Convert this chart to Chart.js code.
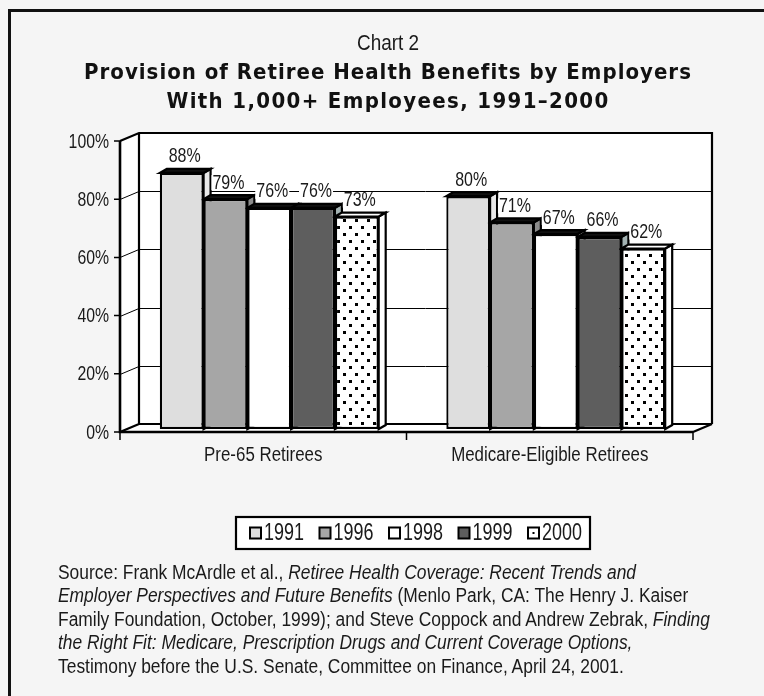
<!DOCTYPE html>
<html><head><meta charset="utf-8">
<script src="https://cdn.jsdelivr.net/npm/chart.js@4.4.0/dist/chart.umd.min.js"></script>
<style>
html,body{margin:0;padding:0;background:#f5f5f5;}
#wrap{position:relative;width:764px;height:696px;overflow:hidden;background:#f5f5f5;}
#frame{position:absolute;left:8px;top:9px;width:900px;height:900px;border-left:3px solid #111;border-top:3px solid #111;}
canvas{position:absolute;left:0;top:0;}
.t{position:absolute;left:0;width:776px;text-align:center;color:#111;white-space:nowrap;}
#chartno span{display:inline-block;transform:scaleX(0.86);transform-origin:50% 50%;}
#chartno{top:30px;font-family:"Liberation Sans",Arial,sans-serif;font-size:22px;line-height:26px;color:#1a1a1a;}
.tt{font-family:"DejaVu Sans Condensed","DejaVu Sans",sans-serif;font-weight:bold;font-size:22px;line-height:28px;letter-spacing:1px;}
#src{position:absolute;left:58px;top:561px;font-family:"Liberation Sans",Arial,sans-serif;font-size:20px;line-height:23.4px;color:#1a1a1a;white-space:nowrap;transform:scaleX(0.87);transform-origin:0 0;}
</style></head>
<body><div id="wrap">
<div id="frame"></div>
<canvas id="c" width="764" height="696"></canvas>
<div class="t" id="chartno"><span>Chart 2</span></div>
<div class="t tt" style="top:58px;">Provision of Retiree Health Benefits by Employers</div>
<div class="t tt" style="top:87px;letter-spacing:1.35px;">With 1,000+ Employees, 1991–2000</div>
<div id="src">Source: Frank McArdle et al., <i>Retiree Health Coverage: Recent Trends and</i><br><i>Employer Perspectives and Future Benefits</i> (Menlo Park, CA: The Henry J. Kaiser<br>Family Foundation, October, 1999); and Steve Coppock and Andrew Zebrak, <i>Finding</i><br><i>the Right Fit: Medicare, Prescription Drugs and Current Coverage Options,</i><br>Testimony before the U.S. Senate, Committee on Finance, April 24, 2001.</div>
</div>
<script>
// ---- data ----
const categories = ['Pre-65 Retirees', 'Medicare-Eligible Retirees'];
const years = ['1991', '1996', '1998', '1999', '2000'];
const v1991 = [88, 80];
const v1996 = [79, 71];
const v1998 = [76, 67];
const v1999 = [76, 66];
const v2000 = [73, 62];
const yTickValues = [0, 20, 40, 60, 80, 100];
const yTickLabels = ['0%', '20%', '40%', '60%', '80%', '100%'];

const FONT = '"Liberation Sans",Arial,sans-serif';
const canvas = document.getElementById('c');
const ctx0 = canvas.getContext('2d');

function txt(ctx, s, x, y, align, sx) {
  ctx.save();
  ctx.translate(x, y);
  ctx.scale(sx, 1);
  ctx.textAlign = align;
  ctx.fillText(s, 0, 0);
  ctx.restore();
}

function dotPattern() {
  const p = document.createElement('canvas');
  p.width = 12; p.height = 14;
  const g = p.getContext('2d');
  g.fillStyle = '#fff'; g.fillRect(0, 0, 12, 14);
  g.fillStyle = '#000';
  g.fillRect(1, 2, 3, 3);
  g.fillRect(7, 9, 3, 3);
  return ctx0.createPattern(p, 'repeat');
}
const frontColors = ['#dedede', '#a6a6a6', '#ffffff', '#5e5e5e', dotPattern()];
const sideColors = ['#e9e9e9', '#8c8c8c', '#ffffff', '#a3b2b2', '#ffffff'];
const topColors = ['#111', '#111', '#111', '#111', '#ffffff'];
const DX = 7, DY = 4;

const threeD = {
  id: 'threeD',
  beforeDatasetsDraw(chart) {
    const { ctx, chartArea: ca, scales: { y } } = chart;
    const fx = ca.left - 6, bx = ca.left + 13, fxr = ca.right - 6, bxr = ca.right + 13;
    const fy = v => y.getPixelForValue(v) + 3;
    const by = v => y.getPixelForValue(v) - 5;
    ctx.save();
    ctx.fillStyle = '#fff';
    ctx.fillRect(bx, by(100), bxr - bx, by(0) - by(100));
    ctx.beginPath();
    ctx.moveTo(fx, fy(100)); ctx.lineTo(bx, by(100)); ctx.lineTo(bx, by(0)); ctx.lineTo(fx, fy(0)); ctx.closePath(); ctx.fill();
    ctx.beginPath();
    ctx.moveTo(fx, fy(0)); ctx.lineTo(bx, by(0)); ctx.lineTo(bxr, by(0)); ctx.lineTo(fxr, fy(0)); ctx.closePath(); ctx.fill();
    ctx.strokeStyle = '#000'; ctx.lineWidth = 1;
    yTickValues.forEach(v => {
      if (v === 0 || v === 100) return;
      ctx.beginPath();
      ctx.moveTo(fx, Math.round(fy(v)) + 0.5); ctx.lineTo(bx, Math.round(by(v)) + 0.5); ctx.lineTo(bxr, Math.round(by(v)) + 0.5);
      ctx.stroke();
    });
    ctx.lineWidth = 2.2;
    ctx.beginPath();
    ctx.moveTo(fx, fy(100)); ctx.lineTo(bx, by(100)); ctx.lineTo(bxr, by(100)); ctx.lineTo(bxr, by(0));
    ctx.moveTo(bx, by(100)); ctx.lineTo(bx, by(0)); ctx.lineTo(bxr, by(0));
    ctx.moveTo(fx, fy(0)); ctx.lineTo(bx, by(0));
    ctx.moveTo(bxr, by(0)); ctx.lineTo(fxr, fy(0));
    ctx.stroke();
    chart.data.datasets.forEach((ds, di) => {
      const meta = chart.getDatasetMeta(di);
      meta.data.forEach(el => {
        const p = el.getProps(['x', 'y', 'width', 'base'], true);
        const L = p.x - p.width / 2, R = p.x + p.width / 2, T = p.y, B = p.base;
        ctx.lineWidth = 2.2;
        ctx.strokeStyle = '#000';
        ctx.fillStyle = sideColors[di];
        ctx.beginPath();
        ctx.moveTo(R, T); ctx.lineTo(R + DX, T - DY); ctx.lineTo(R + DX, B - DY); ctx.lineTo(R, B); ctx.closePath();
        ctx.fill(); ctx.stroke();
        ctx.fillStyle = topColors[di];
        ctx.beginPath();
        ctx.moveTo(L, T); ctx.lineTo(L + DX, T - DY); ctx.lineTo(R + DX, T - DY); ctx.lineTo(R, T); ctx.closePath();
        ctx.fill(); ctx.stroke();
      });
    });
    ctx.restore();
  },
  afterDatasetsDraw(chart) {
    const { ctx, chartArea: ca, scales: { x, y } } = chart;
    const fx = ca.left - 6, fxr = ca.right - 6;
    const fy = v => y.getPixelForValue(v) + 3;
    ctx.save();
    ctx.strokeStyle = '#000';
    ctx.lineWidth = 2.6;
    ctx.beginPath();
    ctx.moveTo(fx, fy(100)); ctx.lineTo(fx, fy(0)); ctx.lineTo(fxr, fy(0));
    ctx.stroke();
    ctx.lineWidth = 1.5;
    ctx.beginPath();
    yTickValues.forEach(v => { ctx.moveTo(fx - 6, fy(v)); ctx.lineTo(fx, fy(v)); });
    [fx, (fx + fxr) / 2, fxr].forEach(px => { ctx.moveTo(px, fy(0)); ctx.lineTo(px, fy(0) + 8); });
    ctx.stroke();
    ctx.fillStyle = '#1a1a1a';
    ctx.font = '20px ' + FONT;
    ctx.textBaseline = 'middle';
    yTickValues.forEach((v, i) => txt(ctx, yTickLabels[i], fx - 11, fy(v) + 1, 'right', 0.79));
    categories.forEach((c, i) => txt(ctx, c, x.getPixelForValue(i) - 6, fy(0) + 23, 'center', 0.845));
    chart.data.datasets.forEach((ds, di) => {
      const meta = chart.getDatasetMeta(di);
      meta.data.forEach((el, i) => {
        const s = ds.data[i] + '%';
        const lx = el.x + 3, ly = el.y - 17;
        const w = ctx.measureText(s).width * 0.8;
        ctx.fillStyle = '#fff';
        ctx.fillRect(lx - w / 2 - 1, ly - 7, w + 2, 15);
        ctx.fillStyle = '#1a1a1a';
        txt(ctx, s, lx, ly + 1, 'center', 0.8);
      });
    });
    // legend
    const lx0 = 236, ly0 = 517, lw = 354, lh = 32;
    ctx.fillStyle = '#fff';
    ctx.fillRect(lx0, ly0, lw, lh);
    ctx.lineWidth = 2.2; ctx.strokeStyle = '#000';
    ctx.strokeRect(lx0, ly0, lw, lh);
    ctx.font = '23px ' + FONT;
    chart.data.datasets.forEach((ds, di) => {
      const cx = 250 + di * 69.5;
      const my = ly0 + lh / 2;
      ctx.fillStyle = di === 4 ? '#fff' : frontColors[di];
      ctx.fillRect(cx, my - 5.5, 11, 11);
      if (di === 4) { ctx.fillStyle = '#000'; ctx.fillRect(cx + 4.5, my - 1, 2, 2); }
      ctx.lineWidth = 2; ctx.strokeRect(cx, my - 5.5, 11, 11);
      ctx.fillStyle = '#1a1a1a';
      txt(ctx, ds.label, cx + 14, my + 1, 'left', 0.78);
    });
    ctx.restore();
  }
};

const seriesValues = [v1991, v1996, v1998, v1999, v2000];
new Chart(canvas, {
  type: 'bar',
  data: {
    labels: categories,
    datasets: years.map((yr, i) => ({
      label: yr,
      data: seriesValues[i],
      backgroundColor: frontColors[i],
      borderColor: '#000',
      borderWidth: 2.2,
      borderSkipped: false,
      categoryPercentage: 0.764,
      barPercentage: 1.0
    }))
  },
  options: {
    responsive: false,
    animation: false,
    devicePixelRatio: 1,
    layout: { padding: { left: 126, right: 65, top: 138, bottom: 267 } },
    scales: {
      x: { display: false },
      y: { display: false, min: 0, max: 100 }
    },
    plugins: { legend: { display: false }, tooltip: { enabled: false } }
  },
  plugins: [threeD]
});
</script>
</body></html>
